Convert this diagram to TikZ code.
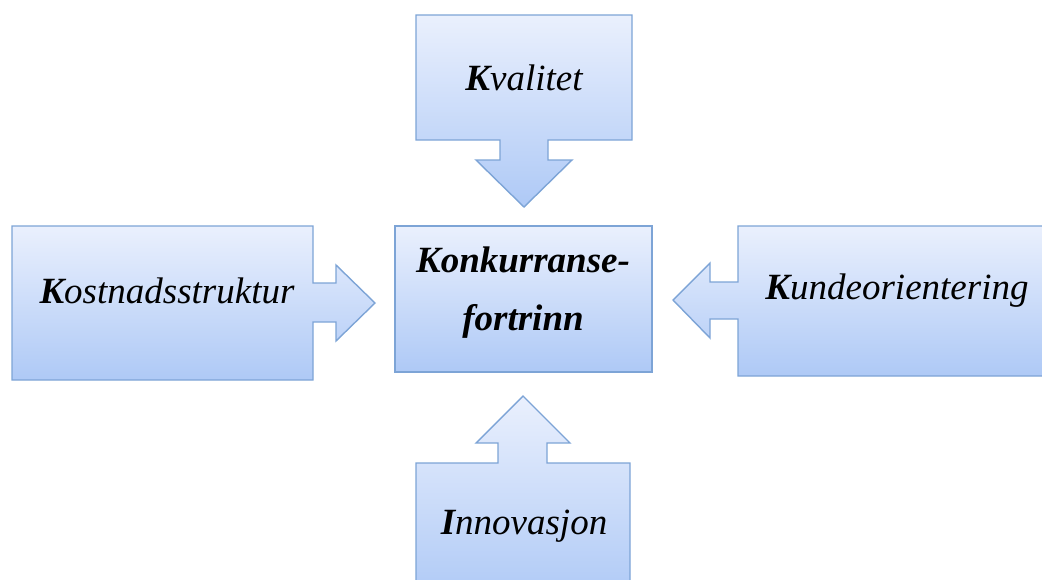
\documentclass[tikz,border=0pt]{standalone}
\usepackage{fontspec}
\setmainfont{Liberation Serif}
\tikzset{
  callout/.style={draw=boxedge, line width=1.4pt, top color=boxtop, bottom color=boxbot, line join=miter},
  lbl/.style={font=\fontsize{37}{58}\selectfont\itshape, align=center, inner sep=0pt}
}
\definecolor{boxtop}{RGB}{234,240,253}
\definecolor{boxbot}{RGB}{174,201,246}
\definecolor{boxedge}{RGB}{125,164,214}
\begin{document}
\begin{tikzpicture}[x=1pt,y=-1pt]
\useasboundingbox (0,0) rectangle (1042,579);
\clip (0,0) rectangle (1042,579);
% top
\path[callout] (416,15) -- (632,15) -- (632,140) -- (548,140) -- (548,160) -- (572,160) -- (524,207) -- (476,160) -- (500,160) -- (500,140) -- (416,140) -- cycle;
% left
\path[callout] (12,226) -- (313,226) -- (313,283) -- (336,283) -- (336,265) -- (375,303) -- (336,341) -- (336,322) -- (313,322) -- (313,380) -- (12,380) -- cycle;
% right
\path[callout] (1060,226) -- (738,226) -- (738,282) -- (710,282) -- (710,263) -- (673,300) -- (710,338) -- (710,319) -- (738,319) -- (738,376) -- (1060,376) -- cycle;
% centre
\path[callout] (395,226) rectangle (652,372);
% bottom
\path[callout] (416,600) -- (416,463) -- (498,463) -- (498,443) -- (476,443) -- (523,396) -- (570,443) -- (547,443) -- (547,463) -- (630,463) -- (630,600) -- cycle;
\node[lbl] (kval) at (524,78) {\textbf{K}valitet};
\node[lbl] (kost) at (167,291) {\textbf{K}ostnadsstruktur};
\node[lbl] (kund) at (897,291) {\textbf{K}undeorientering};
\node[lbl, font=\fontsize{37}{58}\selectfont\bfseries\itshape] (konk) at (523,293) {Konkurranse-\\fortrinn};
\node[lbl] (inno) at (524,526) {\textbf{I}nnovasjon};
\end{tikzpicture}
\end{document}
